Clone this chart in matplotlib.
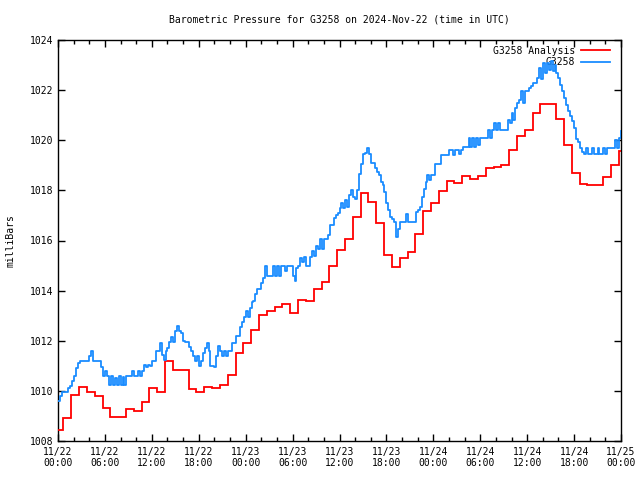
import matplotlib
matplotlib.use("Agg")
import matplotlib.pyplot as plt
import numpy as np

# ---------------- data ----------------
title = "Barometric Pressure for G3258 on 2024-Nov-22 (time in UTC)"
ylabel = "milliBars"
series_names = ["G3258 Analysis", "G3258"]

# Analysis (hourly values, hour 0..72)
analysis_mb = [
    1008.44, 1008.90, 1009.82, 1010.14, 1009.97, 1009.80, 1009.30, 1008.94,
    1008.94, 1009.28, 1009.21, 1009.56, 1010.10, 1009.96, 1011.18, 1010.82,
    1010.82, 1010.06, 1009.96, 1010.14, 1010.10, 1010.23, 1010.62, 1011.50,
    1011.92, 1012.43, 1013.04, 1013.18, 1013.33, 1013.45, 1013.10, 1013.63,
    1013.58, 1014.05, 1014.35, 1014.98, 1015.62, 1016.05, 1016.95, 1017.90,
    1017.54, 1016.69, 1015.42, 1014.93, 1015.29, 1015.53, 1016.25, 1017.18,
    1017.50, 1017.98, 1018.37, 1018.28, 1018.57, 1018.44, 1018.57, 1018.88,
    1018.95, 1019.00, 1019.61, 1020.17, 1020.40, 1021.10, 1021.46, 1021.46,
    1020.85, 1019.83, 1018.68, 1018.24, 1018.22, 1018.22, 1018.52, 1019.00,
    1019.59,
]

# Observations every 15 minutes (hour 0.00 .. 72.00)
obs_mb = [
    1009.60, 1009.80, 1009.95, 1009.95,  1009.95, 1010.10, 1010.20, 1010.40,  1010.60, 1010.90, 1011.10, 1011.20,
    1011.20, 1011.20, 1011.20, 1011.20,  1011.40, 1011.60, 1011.20, 1011.20,  1011.20, 1011.20, 1010.95, 1010.60,
    1010.80, 1010.60, 1010.25, 1010.60,  1010.25, 1010.50, 1010.25, 1010.60,  1010.25, 1010.55, 1010.25, 1010.60,
    1010.60, 1010.60, 1010.80, 1010.60,  1010.60, 1010.80, 1010.60, 1010.80,  1011.05, 1010.95, 1011.05, 1011.00,
    1011.20, 1011.20, 1011.60, 1011.60,  1011.90, 1011.45, 1011.25, 1011.60,  1011.70, 1011.95, 1012.15, 1011.95,
    1012.40, 1012.60, 1012.40, 1012.30,  1012.00, 1011.95, 1011.95, 1011.75,  1011.60, 1011.40, 1011.20, 1011.40,
    1011.00, 1011.20, 1011.50, 1011.70,  1011.90, 1011.60, 1011.00, 1011.00,  1010.95, 1011.40, 1011.80, 1011.60,
    1011.40, 1011.60, 1011.40, 1011.60,  1011.60, 1011.90, 1011.90, 1012.20,  1012.20, 1012.55, 1012.75, 1012.95,
    1013.20, 1012.95, 1013.30, 1013.55,  1013.60, 1013.85, 1014.05, 1014.05,  1014.30, 1014.50, 1015.00, 1014.60,
    1014.60, 1014.60, 1015.00, 1014.60,  1015.00, 1014.60, 1015.00, 1015.00,  1014.80, 1015.00, 1015.00, 1015.00,
    1014.60, 1014.40, 1014.90, 1015.00,  1015.30, 1015.15, 1015.35, 1015.00,  1015.00, 1015.35, 1015.60, 1015.40,
    1015.80, 1015.65, 1016.05, 1015.65,  1016.05, 1016.05, 1016.20, 1016.60,  1016.60, 1016.90, 1017.00, 1017.10,
    1017.30, 1017.50, 1017.30, 1017.60,  1017.35, 1017.80, 1018.00, 1017.75,  1017.65, 1018.00, 1018.65, 1019.05,
    1019.45, 1019.50, 1019.70, 1019.45,  1019.10, 1019.10, 1018.90, 1018.75,  1018.60, 1018.35, 1018.20, 1017.95,
    1017.50, 1017.20, 1016.95, 1016.85,  1016.75, 1016.15, 1016.45, 1016.75,  1016.75, 1016.75, 1017.05, 1016.75,
    1016.75, 1016.75, 1016.75, 1017.15,  1017.20, 1017.35, 1017.75, 1018.05,  1018.35, 1018.60, 1018.40, 1018.60,
    1018.60, 1019.05, 1019.05, 1019.05,  1019.40, 1019.40, 1019.40, 1019.40,  1019.60, 1019.60, 1019.40, 1019.60,
    1019.60, 1019.45, 1019.60, 1019.75,  1019.75, 1019.75, 1020.10, 1019.75,  1020.10, 1019.75, 1020.10, 1019.80,
    1020.10, 1020.10, 1020.10, 1020.10,  1020.40, 1020.10, 1020.40, 1020.70,  1020.40, 1020.70, 1020.40, 1020.40,
    1020.40, 1020.40, 1020.80, 1020.70,  1021.10, 1020.80, 1021.30, 1021.50,  1021.60, 1021.95, 1021.50, 1021.95,
    1021.95, 1022.10, 1022.15, 1022.30,  1022.30, 1022.50, 1022.90, 1022.45,  1023.10, 1022.70, 1023.10, 1022.80,
    1023.15, 1022.75, 1023.00, 1022.70,  1022.50, 1022.20, 1021.95, 1021.70,  1021.40, 1021.15, 1020.95, 1020.75,
    1020.50, 1020.05, 1019.95, 1019.70,  1019.55, 1019.45, 1019.70, 1019.45,  1019.45, 1019.70, 1019.45, 1019.45,
    1019.70, 1019.45, 1019.45, 1019.70,  1019.45, 1019.70, 1019.70, 1019.70,  1019.70, 1020.00, 1019.70, 1020.10,
    1020.35,
]

xtick_labels = ["11/22\n00:00", "11/22\n06:00", "11/22\n12:00", "11/22\n18:00",
                "11/23\n00:00", "11/23\n06:00", "11/23\n12:00", "11/23\n18:00",
                "11/24\n00:00", "11/24\n06:00", "11/24\n12:00", "11/24\n18:00",
                "11/25\n00:00"]
ytick_values = [1008, 1010, 1012, 1014, 1016, 1018, 1020, 1022, 1024]

# ---------------- plot ----------------
FONT = "DejaVu Sans Mono"
FS = 7
plt.rcParams['font.family'] = [FONT]

fig = plt.figure(figsize=(6.4, 4.8), dpi=100)
ax = fig.add_axes([58/640, 39/480, 563/640, 401/480])

# analysis step line: each hourly value holds from (h-0.3) to (h+0.7)
n = len(analysis_mb)
edges = np.concatenate([[0.0], np.arange(n - 1) + 0.7, [72.0]])
ax.stairs(analysis_mb, edges, baseline=None, color="#ff0000", lw=1.3,
          label=series_names[0], zorder=3)

t_obs = np.arange(len(obs_mb)) * 0.25
ax.step(t_obs, obs_mb, where="post", color="#1a8cff", lw=1.3,
        label=series_names[1], zorder=3)

ax.set_xlim(0, 72)
ax.set_ylim(1008, 1024)
ax.set_xticks(np.arange(0, 73, 6))
ax.set_xticks(np.arange(0, 73, 2), minor=True)
ax.set_xticklabels(xtick_labels, fontsize=FS, linespacing=1.15)
ax.set_yticks(ytick_values)
ax.set_yticklabels([str(v) for v in ytick_values], fontsize=FS)
ax.tick_params(which="both", direction="in", top=True, right=True, width=1)
ax.tick_params(which="major", length=5, pad=3)
ax.tick_params(which="minor", length=3)
ax.tick_params(axis="x", which="major", pad=4)
for s in ax.spines.values():
    s.set_linewidth(1)
ax.set_ylabel(ylabel, fontsize=FS)
ax.yaxis.set_label_coords(-0.075, 0.5)
fig.text(339.5/640, 1 - 20/480, title, ha="center", va="center", fontsize=FS)

leg = ax.legend(loc="upper right", bbox_to_anchor=(0.988, 0.995), frameon=False,
                markerfirst=False, fontsize=FS, handlelength=3.0,
                handletextpad=0.6, labelspacing=0.15, borderaxespad=0.0)
leg.set_zorder(1)

fig.savefig("out.png", dpi=100)
